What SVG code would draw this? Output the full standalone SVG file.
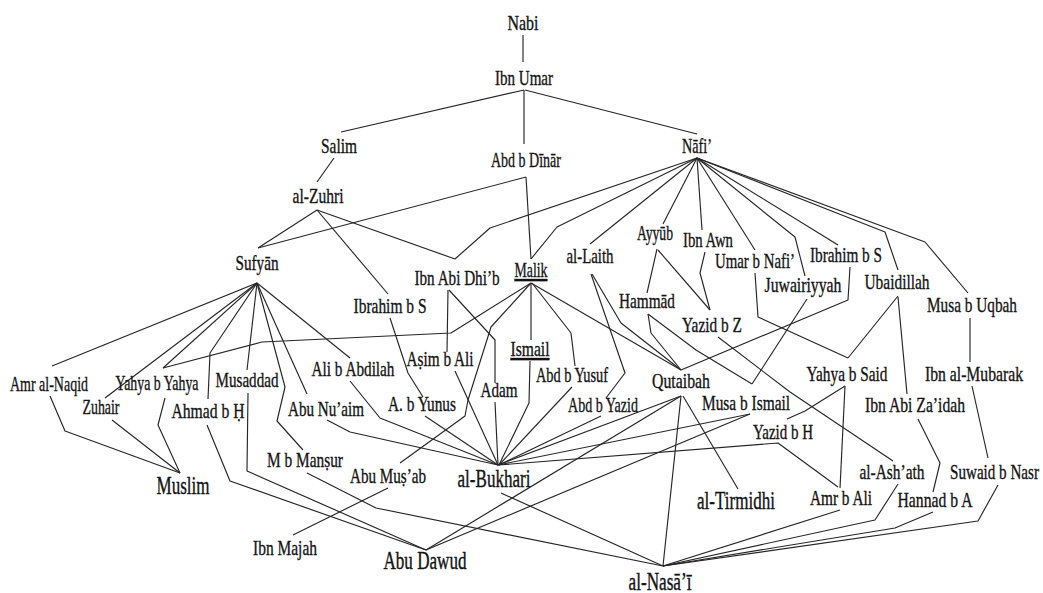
<svg xmlns="http://www.w3.org/2000/svg" width="1043" height="593" viewBox="0 0 1043 593">
<style>
.e{fill:none;stroke:#262626;stroke-width:1.15;stroke-linejoin:round}
.t{font-family:"Liberation Serif","Times New Roman",serif;font-size:21px;fill:#141414;stroke:#141414;stroke-width:0.35}
.big{font-size:25px;stroke-width:0.4}
.u{text-decoration:underline}
</style>
<rect width="1043" height="593" fill="#ffffff"/>
<g id="connectors">
<polyline class="e" points="523,35 523,62"/>
<polyline class="e" points="524,90 341,132"/>
<polyline class="e" points="524,90 524,144"/>
<polyline class="e" points="525,90 697,134"/>
<polyline class="e" points="334,158 317,182"/>
<polyline class="e" points="317,210 258,248"/>
<polyline class="e" points="526,177 258,248"/>
<polyline class="e" points="526,177 531,259"/>
<polyline class="e" points="317,210 455,259"/>
<polyline class="e" points="697,158 490,228 455,259"/>
<polyline class="e" points="317,210 388,294"/>
<polyline class="e" points="697,158 557,227 531,259"/>
<polyline class="e" points="697,158 590,244"/>
<polyline class="e" points="697,158 663,224"/>
<polyline class="e" points="697,158 702,230"/>
<polyline class="e" points="697,158 755,250"/>
<polyline class="e" points="697,158 795,237 805,276"/>
<polyline class="e" points="697,158 838,245"/>
<polyline class="e" points="697,158 885,232 898,270"/>
<polyline class="e" points="697,158 925,242 968,293"/>
<polyline class="e" points="657,249 647,293"/>
<polyline class="e" points="658,250 710,310"/>
<polyline class="e" points="705,252 700,273 710,310"/>
<polyline class="e" points="755,273 758,317 848,358"/>
<polyline class="e" points="898,296 848,358"/>
<polyline class="e" points="807,299 752,384"/>
<polyline class="e" points="648,314 696,350 752,384"/>
<polyline class="e" points="648,314 651,333 681,370"/>
<polyline class="e" points="850,267 848,300 681,370"/>
<polyline class="e" points="592,274 621,323 681,370"/>
<polyline class="e" points="591,274 625,373 606,398"/>
<polyline class="e" points="531,283 681,370"/>
<polyline class="e" points="531,283 451,333 262,342 163,368"/>
<polyline class="e" points="531,283 491,327 468,400 465,416 400,463"/>
<polyline class="e" points="531,284 531,340"/>
<polyline class="e" points="532,283 571,333 575,366"/>
<polyline class="e" points="718,337 790,392 893,461"/>
<polyline class="e" points="448,290 447,352"/>
<polyline class="e" points="449,290 495,340 495,383"/>
<polyline class="e" points="390,318 408,373 423,397"/>
<polyline class="e" points="257,283 52,366"/>
<polyline class="e" points="257,283 105,398"/>
<polyline class="e" points="257,283 163,368"/>
<polyline class="e" points="257,283 210,353 208,399"/>
<polyline class="e" points="257,283 247,370"/>
<polyline class="e" points="257,283 285,387 277,421 303,450"/>
<polyline class="e" points="257,283 307,394"/>
<polyline class="e" points="257,283 350,358"/>
<polyline class="e" points="898,297 907,394"/>
<polyline class="e" points="970,318 970,362"/>
<polyline class="e" points="972,386 988,458"/>
<polyline class="e" points="845,386 840,488"/>
<polyline class="e" points="845,386 805,411 787,419"/>
<polyline class="e" points="918,419 940,463 933,492"/>
<polyline class="e" points="50,396 65,431 180,473"/>
<polyline class="e" points="112,420 180,473"/>
<polyline class="e" points="165,398 158,425 180,473"/>
<polyline class="e" points="207,425 230,481 426,550"/>
<polyline class="e" points="248,393 247,471 426,550"/>
<polyline class="e" points="307,473 376,508 663,566"/>
<polyline class="e" points="388,488 293,535"/>
<polyline class="e" points="681,396 426,550"/>
<polyline class="e" points="750,414 426,550"/>
<polyline class="e" points="681,396 498,465"/>
<polyline class="e" points="750,414 498,465"/>
<polyline class="e" points="838,487 778,443 498,465"/>
<polyline class="e" points="681,396 663,566"/>
<polyline class="e" points="683,396 738,489"/>
<polyline class="e" points="501,493 663,566"/>
<polyline class="e" points="350,381 380,418 498,465"/>
<polyline class="e" points="327,420 350,432 498,465"/>
<polyline class="e" points="425,416 498,465"/>
<polyline class="e" points="455,371 498,465"/>
<polyline class="e" points="495,402 498,465"/>
<polyline class="e" points="530,361 529,403 499,465"/>
<polyline class="e" points="572,387 499,465"/>
<polyline class="e" points="601,416 499,465"/>
<polyline class="e" points="840,510 663,566"/>
<polyline class="e" points="898,484 875,520 663,566"/>
<polyline class="e" points="933,512 895,528 663,566"/>
<polyline class="e" points="998,485 978,521 663,566"/>
</g>
<g id="n-nabi"><text class="t" x="507.5" y="30" textLength="31" lengthAdjust="spacingAndGlyphs">Nabi</text></g>
<g id="n-ibnumar"><text class="t" x="495" y="85" textLength="58" lengthAdjust="spacingAndGlyphs">Ibn Umar</text></g>
<g id="n-salim"><text class="t" x="321" y="153" textLength="36" lengthAdjust="spacingAndGlyphs">Salim</text></g>
<g id="n-abddinar"><text class="t" x="491" y="167" textLength="70" lengthAdjust="spacingAndGlyphs">Abd b Dīnār</text></g>
<g id="n-nafi"><text class="t" x="682" y="153" textLength="30" lengthAdjust="spacingAndGlyphs">Nāfi’</text></g>
<g id="n-zuhri"><text class="t" x="292.5" y="203" textLength="51" lengthAdjust="spacingAndGlyphs">al-Zuhri</text></g>
<g id="n-sufyan"><text class="t" x="235.5" y="270" textLength="43" lengthAdjust="spacingAndGlyphs">Sufyān</text></g>
<g id="n-ibnabidhib"><text class="t" x="414.5" y="285" textLength="85" lengthAdjust="spacingAndGlyphs">Ibn Abi Dhi’b</text></g>
<g id="n-malik"><text class="t u" x="514.5" y="277" textLength="33" lengthAdjust="spacingAndGlyphs">Malik</text></g>
<g id="n-laith"><text class="t" x="566.5" y="263" textLength="47" lengthAdjust="spacingAndGlyphs">al-Laith</text></g>
<g id="n-ayyub"><text class="t" x="637" y="240" textLength="36" lengthAdjust="spacingAndGlyphs">Ayyūb</text></g>
<g id="n-ibnawn"><text class="t" x="683" y="247" textLength="50" lengthAdjust="spacingAndGlyphs">Ibn Awn</text></g>
<g id="n-umar"><text class="t" x="715" y="268" textLength="80" lengthAdjust="spacingAndGlyphs">Umar b Nafi’</text></g>
<g id="n-ibrahimR"><text class="t" x="810" y="262" textLength="72" lengthAdjust="spacingAndGlyphs">Ibrahim b S</text></g>
<g id="n-juwairiyyah"><text class="t" x="764.5" y="292" textLength="77" lengthAdjust="spacingAndGlyphs">Juwairiyyah</text></g>
<g id="n-ubaidillah"><text class="t" x="864.5" y="289" textLength="65" lengthAdjust="spacingAndGlyphs">Ubaidillah</text></g>
<g id="n-musauqbah"><text class="t" x="927" y="312" textLength="90" lengthAdjust="spacingAndGlyphs">Musa b Uqbah</text></g>
<g id="n-hammad"><text class="t" x="619" y="308" textLength="56" lengthAdjust="spacingAndGlyphs">Hammād</text></g>
<g id="n-yazidz"><text class="t" x="682" y="332" textLength="60" lengthAdjust="spacingAndGlyphs">Yazid b Z</text></g>
<g id="n-ibrahimL"><text class="t" x="353.5" y="313" textLength="73" lengthAdjust="spacingAndGlyphs">Ibrahim b S</text></g>
<g id="n-amrnaqid"><text class="t" x="10" y="391" textLength="78" lengthAdjust="spacingAndGlyphs">Amr al-Naqid</text></g>
<g id="n-yahyayahya"><text class="t" x="115.5" y="390" textLength="83" lengthAdjust="spacingAndGlyphs">Yahya b Yahya</text></g>
<g id="n-musaddad"><text class="t" x="215.5" y="387" textLength="63" lengthAdjust="spacingAndGlyphs">Musaddad</text></g>
<g id="n-zuhair"><text class="t" x="82.5" y="414" textLength="37" lengthAdjust="spacingAndGlyphs">Zuhair</text></g>
<g id="n-ahmad"><text class="t" x="171.5" y="418" textLength="73" lengthAdjust="spacingAndGlyphs">Ahmad b Ḥ</text></g>
<g id="n-alibabdilah"><text class="t" x="311.5" y="376" textLength="83" lengthAdjust="spacingAndGlyphs">Ali b Abdilah</text></g>
<g id="n-abunuaim"><text class="t" x="288" y="416" textLength="76" lengthAdjust="spacingAndGlyphs">Abu Nu’aim</text></g>
<g id="n-asim"><text class="t" x="406.5" y="366" textLength="67" lengthAdjust="spacingAndGlyphs">Aṣim b Ali</text></g>
<g id="n-ismail"><text class="t u" x="510.5" y="356" textLength="39" lengthAdjust="spacingAndGlyphs">Ismail</text></g>
<g id="n-abdyusuf"><text class="t" x="536" y="382" textLength="72" lengthAdjust="spacingAndGlyphs">Abd b Yusuf</text></g>
<g id="n-adam"><text class="t" x="480.5" y="397" textLength="37" lengthAdjust="spacingAndGlyphs">Adam</text></g>
<g id="n-qutaibah"><text class="t" x="652" y="388" textLength="58" lengthAdjust="spacingAndGlyphs">Qutaibah</text></g>
<g id="n-abyunus"><text class="t" x="388" y="411" textLength="68" lengthAdjust="spacingAndGlyphs">A. b Yunus</text></g>
<g id="n-abdyazid"><text class="t" x="568" y="412" textLength="70" lengthAdjust="spacingAndGlyphs">Abd b Yazid</text></g>
<g id="n-bukhari"><text class="t big" x="457.5" y="487" textLength="73" lengthAdjust="spacingAndGlyphs">al-Bukhari</text></g>
<g id="n-abumusab"><text class="t" x="350" y="483" textLength="76" lengthAdjust="spacingAndGlyphs">Abu Muṣ’ab</text></g>
<g id="n-mbmansur"><text class="t" x="267" y="467" textLength="76" lengthAdjust="spacingAndGlyphs">M b Manṣur</text></g>
<g id="n-ibnmajah"><text class="t" x="253" y="555" textLength="64" lengthAdjust="spacingAndGlyphs">Ibn Majah</text></g>
<g id="n-abudawud"><text class="t big" x="383.5" y="569" textLength="83" lengthAdjust="spacingAndGlyphs">Abu Dawud</text></g>
<g id="n-nasai"><text class="t big" x="628.5" y="590" textLength="63" lengthAdjust="spacingAndGlyphs">al-Nasā’ī</text></g>
<g id="n-muslim"><text class="t big" x="156.5" y="494" textLength="53" lengthAdjust="spacingAndGlyphs">Muslim</text></g>
<g id="n-musaismail"><text class="t" x="702" y="410" textLength="88" lengthAdjust="spacingAndGlyphs">Musa b Ismail</text></g>
<g id="n-yazidh"><text class="t" x="753" y="439" textLength="60" lengthAdjust="spacingAndGlyphs">Yazid b H</text></g>
<g id="n-yahyasaid"><text class="t" x="806.5" y="381" textLength="81" lengthAdjust="spacingAndGlyphs">Yahya b Said</text></g>
<g id="n-mubarak"><text class="t" x="925" y="381" textLength="98" lengthAdjust="spacingAndGlyphs">Ibn al-Mubarak</text></g>
<g id="n-zaidah"><text class="t" x="865" y="412" textLength="100" lengthAdjust="spacingAndGlyphs">Ibn Abi Za’idah</text></g>
<g id="n-ashath"><text class="t" x="859.5" y="479" textLength="65" lengthAdjust="spacingAndGlyphs">al-Ash’ath</text></g>
<g id="n-suwaid"><text class="t" x="950" y="479" textLength="89" lengthAdjust="spacingAndGlyphs">Suwaid b Nasr</text></g>
<g id="n-amrbali"><text class="t" x="810" y="505" textLength="62" lengthAdjust="spacingAndGlyphs">Amr b Ali</text></g>
<g id="n-hannad"><text class="t" x="897.5" y="507" textLength="75" lengthAdjust="spacingAndGlyphs">Hannad b A</text></g>
<g id="n-tirmidhi"><text class="t big" x="697" y="509" textLength="78" lengthAdjust="spacingAndGlyphs">al-Tirmidhi</text></g>
</svg>
